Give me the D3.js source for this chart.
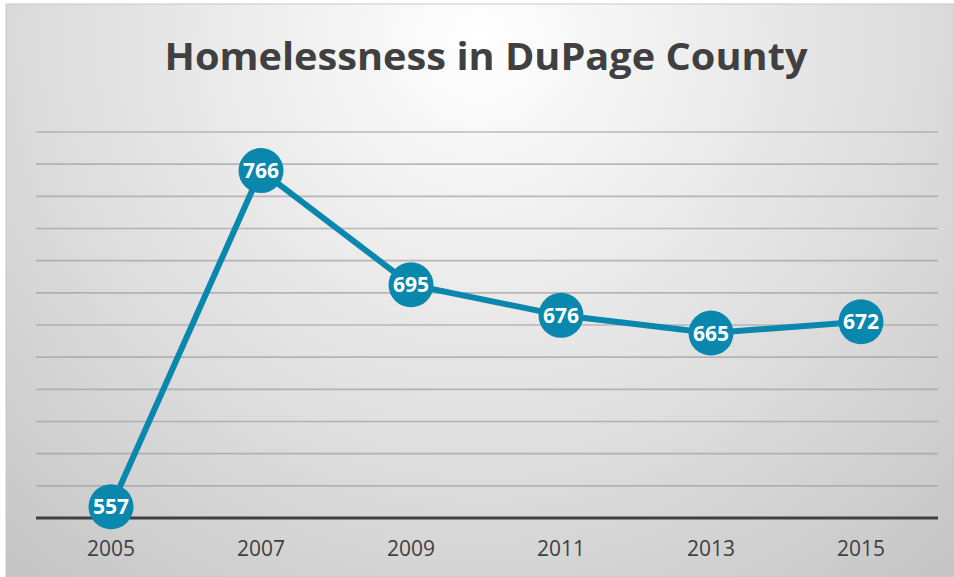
<!DOCTYPE html>
<html><head><meta charset="utf-8">
<script src="https://cdn.jsdelivr.net/npm/d3@7"></script>
<style>html,body{margin:0;padding:0;background:#fff;}svg{display:block;}</style>
</head><body>
<svg id="chart" width="954" height="577"></svg>
<script>
const years = ["2005","2007","2009","2011","2013","2015"];
const counts = [557, 766, 695, 676, 665, 672];
const yTicks = [550,570,590,610,630,650,670,690,710,730,750,770,790];
const title = "Homelessness in DuPage County";

const svg = d3.select("#chart");
const defs = svg.append("defs");
const rg = defs.append("radialGradient").attr("id","bg")
  .attr("gradientUnits","userSpaceOnUse")
  .attr("cx",480).attr("cy",40).attr("r",720);
rg.append("stop").attr("offset","0").attr("stop-color","#ffffff");
rg.append("stop").attr("offset","0.3").attr("stop-color","#eeeeee");
rg.append("stop").attr("offset","0.65").attr("stop-color","#dadada");
rg.append("stop").attr("offset","1").attr("stop-color","#c4c4c4");

svg.append("rect").attr("x",6).attr("y",4).attr("width",948).attr("height",573)
  .attr("fill","url(#bg)").attr("stroke","#c8c8c8").attr("stroke-width",1);

const x = d3.scaleBand().domain(years).range([36,936]);
const y = d3.scaleLinear().domain([550,790]).range([518,132]);

// gridlines
svg.append("g").selectAll("line").data(yTicks.slice(1)).join("line")
  .attr("x1",36).attr("x2",938)
  .attr("y1",d=>y(d)).attr("y2",d=>y(d))
  .attr("stroke","#a0a0a0").attr("stroke-opacity",0.7).attr("stroke-width",1.6);

// baseline
svg.append("line").attr("x1",36).attr("x2",938).attr("y1",y(550)).attr("y2",y(550))
  .attr("stroke","#404040").attr("stroke-width",3);

// x axis labels
const xAxis = d3.axisBottom(x).tickSize(0).tickPadding(0);
const gx = svg.append("g").attr("transform",`translate(0,${y(550)+31})`).call(xAxis);
gx.select(".domain").remove();
gx.selectAll("text").attr("font-family","'Open Sans', sans-serif").attr("font-size",21)
  .attr("fill","#404040").attr("dy","0.35em");

// line
const line = d3.line().x((d,i)=>x(years[i])+x.bandwidth()/2).y(d=>y(d));
svg.append("path").datum(counts).attr("d",line).attr("fill","none")
  .attr("stroke","#0A87AD").attr("stroke-width",6).attr("stroke-linejoin","round");

// markers
const pts = svg.append("g").selectAll("g").data(counts).join("g")
  .attr("transform",(d,i)=>`translate(${x(years[i])+x.bandwidth()/2},${y(d)})`);
pts.append("circle").attr("r",22.5).attr("fill","#0A87AD");
pts.append("text").text(d=>d).attr("text-anchor","middle").attr("dy","0.36em")
  .attr("font-family","'Open Sans', sans-serif").attr("font-weight","bold")
  .attr("font-size",21).attr("fill","#ffffff");

// title
svg.append("text").text(title).attr("x",486).attr("y",70).attr("text-anchor","middle")
  .attr("font-family","'Open Sans', sans-serif").attr("font-weight","bold")
  .attr("font-size",38).attr("fill","#404040")
  .attr("textLength",643).attr("lengthAdjust","spacingAndGlyphs");
</script>
</body></html>
